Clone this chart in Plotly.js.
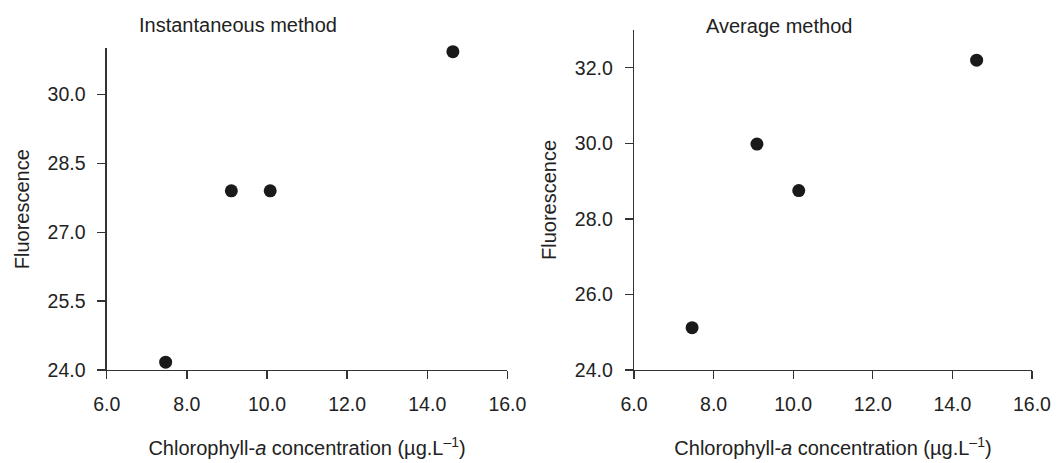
<!DOCTYPE html>
<html>
<head>
<meta charset="utf-8">
<script src="https://cdn.plot.ly/plotly-3.0.1.min.js"></script>
<style>html,body{margin:0;padding:0;background:#fff;}</style>
</head>
<body>
<div id="chart" style="width:1057px;height:463px;"></div>
<script>
// Instantaneous method
const instX = [7.47, 9.11, 10.08, 14.64];
const instY = [24.17, 27.9, 27.9, 30.93];
// Average method
const avgX = [7.46, 9.09, 10.14, 14.61];
const avgY = [25.12, 29.98, 28.75, 32.2];

const xTicks = [6, 8, 10, 12, 14, 16];
const instYTicks = [24, 25.5, 27, 28.5, 30];
const avgYTicks = [24, 26, 28, 30, 32];

const titleLeft = 'Instantaneous method';
const titleRight = 'Average method';
const xTitle = 'Chlorophyll-<i>a</i> concentration (µg.L<sup>–1</sup>)';
const yTitle = 'Fluorescence';

const regular = 'Liberation Sans, Arial, sans-serif';
const ink = '#1a1a1a';

const marker = {size: 13, color: ink};

const traces = [
  {x: instX, y: instY, type: 'scatter', mode: 'markers', marker: marker, cliponaxis: false, xaxis: 'x', yaxis: 'y', name: titleLeft},
  {x: avgX, y: avgY, type: 'scatter', mode: 'markers', marker: marker, cliponaxis: false, xaxis: 'x2', yaxis: 'y2', name: titleRight}
];

function xAxis(domain, anchor) {
  return {
    domain: domain, anchor: anchor, range: [6, 16],
    tickvals: xTicks, tickformat: '.1f',
    showgrid: false, zeroline: false, showline: true, linecolor: '#333', linewidth: 1.3,
    ticks: 'outside', ticklen: 8, tickwidth: 1.3, tickcolor: '#333',
    tickfont: {family: regular, size: 19.5, color: '#222'},
    ticklabelstandoff: 8,
    automargin: false,
    title: {text: xTitle, font: {family: regular, size: 20, color: '#222'}, standoff: 27}
  };
}
function yAxis(domain, anchor, range, ticks) {
  return {
    domain: domain, anchor: anchor, range: range,
    tickvals: ticks, tickformat: '.1f',
    showgrid: false, zeroline: false, showline: true, linecolor: '#333', linewidth: 1.3,
    ticks: 'outside', ticklen: 8, tickwidth: 1.3, tickcolor: '#333',
    tickfont: {family: regular, size: 19.5, color: '#222'},
    ticklabelstandoff: 8,
    automargin: false,
    title: {text: yTitle, font: {family: regular, size: 20, color: '#222'}, standoff: 12}
  };
}

const layout = {
  width: 1057, height: 463,
  margin: {l: 0, r: 0, t: 0, b: 93},
  paper_bgcolor: '#fff', plot_bgcolor: '#fff',
  showlegend: false,
  xaxis: xAxis([0.101, 0.480], 'y'),
  yaxis: yAxis([0, 0.869], 'x', [24, 31.0], instYTicks),
  xaxis2: xAxis([0.5998, 0.9763], 'y2'),
  yaxis2: yAxis([0, 0.919], 'x2', [24, 33], avgYTicks),
  annotations: [
    {text: titleLeft, xref: 'paper', yref: 'paper', x: 238/1057, y: (370-25)/370, xanchor: 'center', yanchor: 'middle', showarrow: false, font: {family: regular, size: 20, color: '#222'}},
    {text: titleRight, xref: 'paper', yref: 'paper', x: 779/1057, y: (370-26)/370, xanchor: 'center', yanchor: 'middle', showarrow: false, font: {family: regular, size: 20, color: '#222'}}
  ]
};

Plotly.newPlot('chart', traces, layout, {displayModeBar: false, staticPlot: true});
</script>
</body>
</html>
